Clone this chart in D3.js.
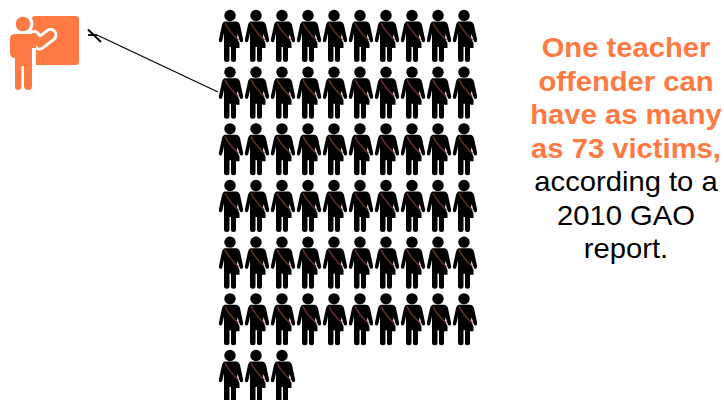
<!DOCTYPE html>
<html>
<head>
<meta charset="utf-8">
<script src="https://cdn.jsdelivr.net/npm/d3@7"></script>
<style>
  html, body { margin: 0; padding: 0; background: #fff; }
  svg { display: block; }
  text { font-family: "Liberation Sans", Arial, sans-serif; }
</style>
</head>
<body>
<div id="chart"></div>
<script>
// one row per line of figures
var rowCounts = [10, 10, 10, 10, 10, 10, 3];
var headlineLines = ['One teacher', 'offender can', 'have as many', 'as 73 victims,'];
var bodyLines = ['according to a', '2010 GAO', 'report.'];

var orange = '#ff7a42',
    figureColor = '#000',
    sashColor = '#5e2e24';

var svg = d3.select('#chart').append('svg')
    .attr('width', 724)
    .attr('height', 400);

// grid scales
var x = d3.scaleLinear().domain([0, 9]).range([231, 465]),
    y = d3.scaleLinear().domain([0, 6]).range([36, 376]);

// flatten counts to one record per figure
var figures = [];
rowCounts.forEach(function (count, row) {
    d3.range(count).forEach(function (col) {
        figures.push({row: row, col: col});
    });
});

// figure symbol, origin at the middle of the body
var defs = svg.append('defs');
var person = defs.append('g').attr('id', 'person');
person.append('circle')
    .attr('cx', -1).attr('cy', -20.5).attr('r', 5.7)
    .attr('fill', figureColor);
person.append('path')
    .attr('fill', figureColor)
    .attr('d', 'M-6,-14.5 L5,-14.5 Q8,-14.5 9,-11 L12,3 Q12.6,6 10.5,6.2 Q9,6.4 8.4,4 L6.6,-2 L6,2 L8.5,7 L8.5,12 L5,12 '
        + 'L5,23.5 Q5,26 2.5,26 Q0,26 0,23.5 L0,11 L-1.5,11 L-1.5,23.5 Q-1.5,26 -4.2,26 Q-7,26 -7,23.5 '
        + 'L-7,-3 L-8.5,4 Q-9,6.4 -10.5,6.2 Q-12.6,6 -12,3 L-9,-11 Q-8,-14.5 -6,-14.5 Z');
person.append('path')
    .attr('fill', 'none')
    .attr('stroke', sashColor)
    .attr('stroke-width', 1.6)
    .attr('d', 'M-6,-13 Q-3,-6 7.3,4');

svg.append('g').selectAll('use')
    .data(figures)
    .enter()
    .append('use')
    .attr('href', '#person')
    .attr('x', function (d) { return x(d.col); })
    .attr('y', function (d) { return y(d.row); });

// teacher icon
var teacher = svg.append('g');
var armPath = 'M34,37 L39.5,43.5 L50.5,35';
teacher.append('rect')
    .attr('x', 32).attr('y', 16)
    .attr('width', 47).attr('height', 49)
    .attr('rx', 3)
    .attr('fill', orange);
teacher.append('circle')
    .attr('cx', 23).attr('cy', 24).attr('r', 10.5)
    .attr('fill', '#fff');
teacher.append('rect')
    .attr('x', 32).attr('y', 42)
    .attr('width', 4).attr('height', 24)
    .attr('fill', '#fff');
teacher.append('path')
    .attr('fill', 'none')
    .attr('stroke', '#fff')
    .attr('stroke-width', 14)
    .attr('stroke-linecap', 'round')
    .attr('stroke-linejoin', 'round')
    .attr('d', armPath);
teacher.append('circle')
    .attr('cx', 23).attr('cy', 24).attr('r', 7.3)
    .attr('fill', orange);
teacher.append('path')
    .attr('fill', orange)
    .attr('d', 'M15,34 L31,34 L36,40 L36,48 L32,48 '
        + 'L32,86 Q32,90 28,90 Q24.5,90 24,86 L24,66 L21.5,66 L21.5,86 Q21.5,90 18,90 Q14.5,90 15,86 L15,58 Q10,58 10,52 L10,39 Q10,34 15,34 Z');
teacher.append('path')
    .attr('fill', 'none')
    .attr('stroke', orange)
    .attr('stroke-width', 8)
    .attr('stroke-linecap', 'round')
    .attr('stroke-linejoin', 'round')
    .attr('d', armPath);

// pointer line from the teacher to the second row
var pointer = svg.append('g')
    .attr('fill', 'none')
    .attr('stroke', '#000');
pointer.append('line')
    .attr('x1', 97).attr('y1', 35)
    .attr('x2', 218).attr('y2', 92)
    .attr('stroke-width', 1.2);
pointer.append('line')
    .attr('x1', 88).attr('y1', 29.5)
    .attr('x2', 101).attr('y2', 42)
    .attr('stroke-width', 1.8);
pointer.append('line')
    .attr('x1', 88).attr('y1', 35)
    .attr('x2', 97).attr('y2', 35)
    .attr('stroke-width', 1.8);

// caption, the original type is a little wider than Liberation
var captionY = d3.scaleLinear().domain([0, 6]).range([57, 258]);

svg.append('g').selectAll('text')
    .data(headlineLines.concat(bodyLines))
    .enter()
    .append('text')
    .attr('transform', function (d, i) { return 'translate(626,' + captionY(i) + ') scale(1.05,1)'; })
    .attr('text-anchor', 'middle')
    .attr('font-size', 27.8)
    .attr('font-weight', function (d, i) { return i < headlineLines.length ? 'bold' : 'normal'; })
    .attr('fill', function (d, i) { return i < headlineLines.length ? orange : '#000'; })
    .text(function (d) { return d; });
</script>
</body>
</html>
